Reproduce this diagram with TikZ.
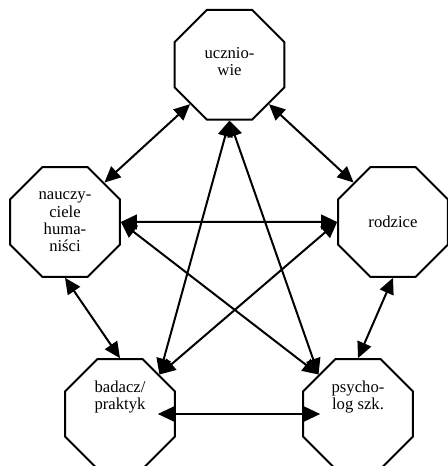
\documentclass[tikz,border=0pt]{standalone}
\usepackage{fontspec}
\setmainfont{Liberation Serif}
\usetikzlibrary{shapes.geometric,arrows.meta}

\begin{document}
\begin{tikzpicture}[x=.75pt,y=-.75pt,line width=1.5pt,>={Triangle[length=12pt,width=11pt]},
    octa/.style={draw,regular polygon,regular polygon sides=8,minimum size=89pt,inner sep=0pt,
        align=center,font=\fontsize{12.5}{13}\selectfont}]
    \useasboundingbox (0,0) rectangle (448,466);
    \clip (0,0) rectangle (448,466);
    \node[octa,text height=17pt](uczn) at (229.5,64.7) {ucznio-\\wie};
    \node[octa](naucz) at (65,222) {nauczy-\\ciele\\huma-\\niści};
    \node[octa](rodz) at (393,222) {rodzice};
    \node[octa,text depth=28pt](badacz) at (120,414) {badacz/\\praktyk};
    \node[octa,text depth=28pt](psych) at (358,414) {psycho-\\log szk.};
    \begin{scope}[<->]
        \draw (uczn.south west) -- (naucz.north east);
        \draw (uczn.south east) -- (rodz.north west);
        \draw (uczn.south) -- (badacz.north east);
        \draw (uczn.south) -- (psych.north west);
        \draw (naucz.east) -- (rodz.west);
        \draw (naucz.east) -- (psych.north west);
        \draw (naucz.south) -- (badacz.north);
        \draw (rodz.west) -- (badacz.north east);
        \draw (rodz.south) -- (psych.north);
        \draw [shorten <=-13.5pt,shorten >=-13.5pt] (badacz.east) -- (psych.west);
    \end{scope}
\end{tikzpicture}
\end{document}
